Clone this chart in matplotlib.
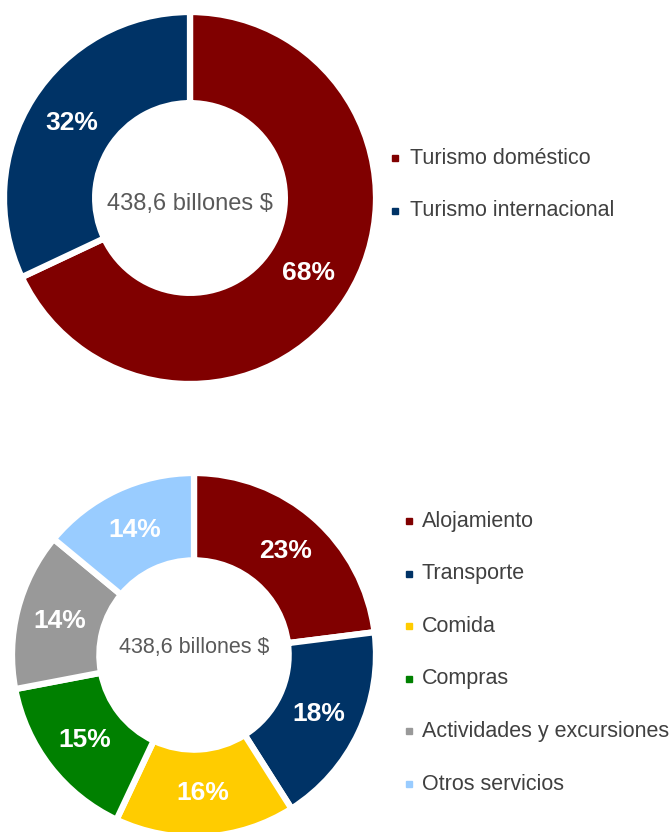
import matplotlib
matplotlib.use('Agg')
import matplotlib.pyplot as plt
import numpy as np

plt.rcParams['font.family'] = ['Liberation Sans', 'DejaVu Sans']

# top donut: tourism by origin
origin_labels = ['Turismo doméstico', 'Turismo internacional']
origin_share = [68, 32]
origin_colors = ['#800000', '#003366']

# bottom donut: spending by category
spend_labels = ['Alojamiento', 'Transporte', 'Comida', 'Compras',
                'Actividades y excursiones', 'Otros servicios']
spend_share = [23, 18, 16, 15, 14, 14]
spend_colors = ['#800000', '#003366', '#FFCC00', '#008000', '#999999', '#99CCFF']

center_text = '438,6 billones $'

W, H = 672, 832
fig = plt.figure(figsize=(W / 100, H / 100), dpi=100)


def donut(cx, cy, r, inner, values, colors, text_y, text_size):
    """Donut chart placed by pixel center/radius"""
    ax = fig.add_axes([(cx - r) / W, (H - cy - r) / H, 2 * r / W, 2 * r / H])
    wedges, _ = ax.pie(values, colors=colors, startangle=90, counterclock=False,
                       radius=1.0, wedgeprops=dict(width=1 - inner, edgecolor='white',
                                                   linewidth=4.5))
    ax.set_xlim(-1, 1)
    ax.set_ylim(-1, 1)
    ax.set_aspect('equal')
    ax.axis('off')
    mid = (1 + inner) / 2
    for w, v in zip(wedges, values):
        ang = np.deg2rad((w.theta1 + w.theta2) / 2)
        ax.text(mid * np.cos(ang), mid * np.sin(ang), f'{v}%', ha='center', va='center',
                color='white', fontsize=19, fontweight='bold')
    ax.text(0, text_y, center_text, ha='center', va='center', color='#595959',
            fontsize=text_size)
    return ax


donut(190, 198, 186, 0.51, origin_share, origin_colors, -0.03, 17)
donut(194, 655, 182, 0.52, spend_share, spend_colors, 0.04, 15.5)

# legends drawn in pixel space
lax = fig.add_axes([0, 0, 1, 1])
lax.set_xlim(0, W)
lax.set_ylim(H, 0)
lax.axis('off')


def legend(x_marker, x_text, y0, step, labels, colors):
    for i, (lab, col) in enumerate(zip(labels, colors)):
        y = y0 + i * step
        lax.plot(x_marker, y, marker='s', markersize=4, color=col, linestyle='none')
        lax.text(x_text, y, lab, ha='left', va='center', color='#404040', fontsize=15.5)


legend(395, 410, 158, 53, origin_labels, origin_colors)
legend(409, 422, 521, 52.6, spend_labels, spend_colors)

fig.savefig('out.png', dpi=100)
